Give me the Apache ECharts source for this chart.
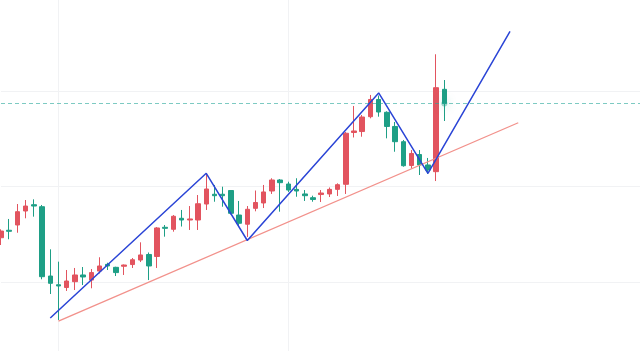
<!DOCTYPE html>
<html>
<head>
<meta charset="utf-8">
<script src="https://cdn.jsdelivr.net/npm/echarts@6/dist/echarts.min.js"></script>
<style>
  html, body { margin: 0; padding: 0; background: #fff; }
  #chart { width: 640px; height: 351px; }
</style>
</head>
<body>
<div id="chart"></div>
<script>
// K线数据 [open, close, low, high]
const candles = [
  [44.65, 45.35, 43.89, 45.53],
  [45.43, 45.32, 44.49, 46.61],
  [45.98, 47.37, 45.17, 48.17],
  [47.44, 47.96, 46.68, 48.59],
  [48.10, 47.96, 46.85, 48.66],
  [47.89, 40.58, 40.31, 48.07],
  [40.65, 39.89, 38.77, 43.44],
  [39.74, 39.61, 36.06, 42.15],
  [39.45, 40.13, 39.09, 41.28],
  [40.06, 40.76, 39.19, 41.49],
  [40.76, 40.55, 39.71, 41.59],
  [40.23, 41.01, 39.37, 41.38],
  [41.17, 41.70, 40.91, 42.61],
  [41.87, 41.70, 41.28, 42.04],
  [41.56, 41.01, 40.65, 41.62],
  [41.67, 41.80, 40.76, 41.85],
  [41.85, 42.35, 41.49, 42.53],
  [42.32, 42.85, 42.11, 44.17],
  [42.90, 41.70, 40.23, 43.11],
  [42.69, 45.67, 41.49, 45.77],
  [45.74, 45.63, 44.76, 45.98],
  [45.53, 46.89, 45.28, 47.02],
  [46.68, 46.50, 45.82, 47.55],
  [46.50, 46.61, 45.46, 47.96],
  [46.50, 48.20, 45.46, 49.11],
  [48.17, 49.74, 47.55, 51.36],
  [49.19, 49.04, 48.41, 50.16],
  [49.19, 49.04, 47.89, 49.98],
  [49.58, 47.20, 47.08, 49.63],
  [47.02, 46.16, 45.77, 48.49],
  [46.06, 47.62, 44.73, 47.96],
  [47.72, 48.33, 47.41, 49.58],
  [48.28, 49.43, 47.75, 50.16],
  [49.53, 50.68, 49.22, 50.86],
  [50.68, 50.40, 47.37, 50.78],
  [50.26, 49.63, 49.43, 50.50],
  [49.70, 49.53, 48.93, 50.86],
  [49.22, 49.04, 48.49, 49.63],
  [48.83, 48.64, 48.41, 49.04],
  [49.16, 49.32, 48.38, 49.63],
  [49.22, 49.70, 48.90, 49.90],
  [49.70, 50.19, 49.01, 50.33],
  [50.23, 55.56, 49.22, 55.69],
  [55.64, 55.80, 55.12, 58.41],
  [55.74, 57.26, 55.20, 57.47],
  [57.29, 59.09, 57.12, 59.56],
  [59.09, 57.78, 57.29, 59.50],
  [57.75, 56.27, 55.03, 57.85],
  [56.27, 54.68, 53.63, 56.74],
  [54.68, 52.17, 52.07, 54.86],
  [52.19, 53.45, 51.88, 53.81],
  [53.34, 52.25, 51.20, 53.81],
  [52.25, 51.72, 51.31, 52.98],
  [51.55, 60.32, 50.57, 63.81],
  [60.15, 58.67, 56.84, 61.12]
];

// 折线(波段)和趋势线
const zigzagIdx = [6, 25, 30, 46, 52, 62];
const zigzagVal = [36.27, 51.38, 44.36, 59.77, 51.38, 66.19];
const trendIdx = [7, 63];
const trendVal = [35.95, 56.66];

// 坐标轴
const totalBars = 80;
const categories = [];
for (let i = 0; i < totalBars; i++) categories.push(String(i));
const vGridIdx = [7, 35];
const yTicks = [30, 40, 50, 60, 70];

const upColor = "#e2545f";
const downColor = "#1e9f86";
const lastClose = candles[candles.length - 1][1];

const chart = echarts.init(document.getElementById("chart"));

const option = {
  animation: false,
  backgroundColor: "#fff",
  grid: {
    left: 1,
    right: -9.6,
    top: -5,
    bottom: -27,
    outerBoundsMode: "none",
  },
  xAxis: [
    {
      type: "category",
      data: categories,
      boundaryGap: false,
      axisLine: { show: false },
      axisTick: { show: false },
      axisLabel: { show: false },
      splitLine: {
        show: true,
        interval: (idx) => vGridIdx.indexOf(idx) >= 0,
        lineStyle: { color: "#f1f2f4", width: 1 },
      },
    },
    {
      type: "value",
      min: 0,
      max: totalBars - 1,
      show: false,
    },
  ],
  yAxis: {
    type: "value",
    min: yTicks[0],
    max: yTicks[yTicks.length - 1],
    interval: 10,
    axisLine: { show: false },
    axisTick: { show: false },
    axisLabel: { show: false },
    splitLine: { lineStyle: { color: "#f1f2f4", width: 1 } },
  },
  series: [
    // 最新价虚线
    {
      type: "line",
      xAxisIndex: 1,
      data: [[0, lastClose], [totalBars - 1, lastClose]],
      symbol: "none",
      silent: true,
      itemStyle: { color: "#26a69a" },
      lineStyle: { color: "#26a69a", type: [4, 3], width: 1.2, opacity: 0.6 },
    },
    {
      type: "candlestick",
      data: candles,
      barWidth: 5,
      itemStyle: {
        color: upColor,
        color0: downColor,
        borderColor: upColor,
        borderColor0: downColor,
        borderWidth: 1,
      },
    },
    {
      type: "line",
      xAxisIndex: 1,
      data: trendIdx.map((x, i) => [x, trendVal[i]]),
      symbol: "none",
      lineStyle: { color: "#f2918b", width: 1.3 },
    },
    {
      type: "line",
      xAxisIndex: 1,
      data: zigzagIdx.map((x, i) => [x, zigzagVal[i]]),
      symbol: "none",
      lineStyle: { color: "#2a44d6", width: 1.5 },
    },
    {
      type: "scatter",
      data: [[candles.length - 1, lastClose]],
      symbolSize: 6,
      itemStyle: {
        color: "rgba(30,159,134,0.55)",
        shadowBlur: 10,
        shadowColor: "rgba(30,159,134,0.8)",
      },
    },
  ],
};

chart.setOption(option);
</script>
</body>
</html>
